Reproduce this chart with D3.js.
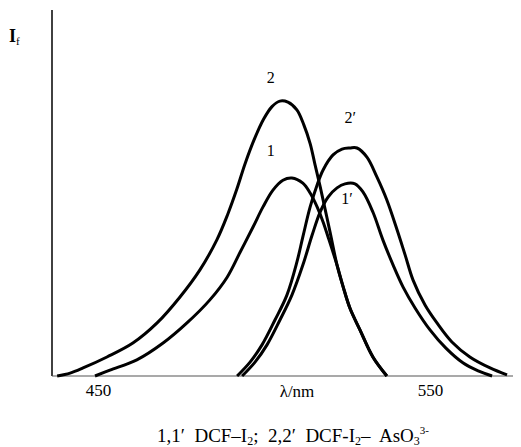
<!DOCTYPE html>
<html><head><meta charset="utf-8">
<script src="https://cdn.jsdelivr.net/npm/d3@7"></script>
<style>body{margin:0;background:#fff}svg{display:block}svg text{font-family:"Liberation Serif","DejaVu Serif",serif !important;fill:#000}</style>
</head><body><div id="chart"></div>
<script>
// wavelength (nm) and relative fluorescence intensity
const curve1 = [[449.1,0],[453.6,1.6],[461.7,4.4],[469.6,9.0],[476.8,14.5],[483.7,20.8],[488.9,27.0],[492.8,33.8],[496.7,40.7],[499.7,46.2],[502.7,50.8],[505.7,53.5],[508.4,54.1],[511.7,52.7],[513.9,50.0],[516.0,46.2],[517.8,42.1],[519.3,38.0],[522.0,30.3],[523.8,24.5],[525.9,18.5],[528.9,12.6],[532.8,5.2],[537.0,0]];
const curve2 = [[437.7,0],[441.6,0.8],[445.5,2.2],[452.7,5.2],[460.5,9.0],[467.8,14.5],[474.7,21.6],[480.7,29.0],[485.8,37.2],[489.0,44.0],[491.8,51.0],[494.3,58.0],[497.0,64.5],[499.9,70.2],[502.4,73.6],[504.8,75.1],[507.2,74.8],[509.9,72.7],[512.0,68.6],[513.9,63.5],[515.4,57.6],[516.9,51.8],[518.4,45.6],[519.9,39.3],[522.0,30.3],[523.8,24.5],[525.9,18.5],[528.9,12.6],[532.8,5.2],[537.0,0]];
const curve1p = [[493.4,0],[497.3,3.8],[500.9,8.5],[504.8,15.3],[508.4,22.1],[511.7,30.3],[514.5,38.5],[516.9,44.8],[519.3,48.9],[522.0,51.4],[524.4,52.5],[527.4,52.5],[529.8,50.3],[532.8,44.8],[535.8,37.2],[538.9,30.3],[541.9,24.3],[545.5,18.6],[550.0,12.6],[554.8,7.6],[559.9,3.6],[564.5,1.4],[568.7,0]];
const curve2p = [[491.9,0],[495.8,3.8],[499.4,8.5],[503.3,15.3],[506.9,22.1],[509.9,31.1],[511.7,38.0],[513.9,46.2],[516.0,52.2],[517.8,56.3],[520.8,60.4],[523.5,62.0],[525.9,62.3],[528.0,62.3],[531.0,59.8],[534.0,54.4],[537.0,48.1],[540.1,39.9],[542.5,33.1],[544.9,26.2],[548.5,19.4],[552.1,14.5],[556.6,9.3],[562.0,5.2],[568.1,2.2],[573.2,0.3]];
const xTicks = [450, 550];
const curveLabels = [["2",502,80],["1",502,60],["2\u2032",526,69],["1\u2032",525,47]];

const W = 521, H = 447;
const svg = d3.select("#chart").append("svg").attr("width", W).attr("height", H)
  .attr("font-family", "Liberation Serif, serif");
const x = d3.scaleLinear().domain([450, 550]).range([98, 430]);
const y = d3.scaleLinear().domain([0, 100]).range([376, 10]);
const x0 = x.invert(52), x1 = x.invert(513);

// axes
svg.append("line").attr("x1", 52).attr("x2", 52).attr("y1", 10).attr("y2", 376)
  .attr("stroke", "#111").attr("stroke-width", 1.6);
svg.append("line").attr("x1", x(x0)).attr("x2", x(x1)).attr("y1", y(0)).attr("y2", y(0))
  .attr("stroke", "#555").attr("stroke-width", 1.2);

const xAxis = d3.axisBottom(x).tickValues(xTicks).tickSize(0).tickPadding(10).tickFormat(d3.format("d"));
const gx = svg.append("g").attr("transform", `translate(0,${y(0)})`).call(xAxis)
  .attr("font-family", "Liberation Serif, serif").attr("font-size", 17);
gx.select(".domain").remove();
gx.selectAll("text").attr("fill", "#000").attr("dy", "0.6em");

svg.append("text").attr("x", 297).attr("y", 397).attr("text-anchor", "middle").attr("font-size", 17).text("\u03BB/nm");

const yl = svg.append("text").attr("x", 9).attr("y", 42).attr("font-size", 18).attr("font-weight", "bold");
yl.append("tspan").text("I");
yl.append("tspan").attr("font-size", 11).attr("dy", 3).attr("font-weight", "normal").text("f");

// curves
const line = d3.line().x(d => x(d[0])).y(d => y(d[1])).curve(d3.curveCatmullRom.alpha(0.5));
[curve1, curve2, curve1p, curve2p].forEach(c => {
  svg.append("path").datum(c).attr("d", line).attr("fill", "none")
    .attr("stroke", "#000").attr("stroke-width", 3).attr("stroke-linejoin", "round");
});

curveLabels.forEach(([t, wx, wy]) => {
  svg.append("text").attr("x", x(wx)).attr("y", y(wy)).attr("text-anchor", "middle")
    .attr("font-size", 16).text(t);
});

// caption
const cap = svg.append("text").attr("x", 293).attr("y", 442).attr("text-anchor", "middle")
  .attr("font-size", 19).attr("xml:space", "preserve").style("white-space", "pre");
cap.append("tspan").text("1,1\u2032  DCF\u2013I");
cap.append("tspan").attr("font-size", 12).attr("dy", 3).text("2");
cap.append("tspan").attr("dy", -3).text(";  2,2\u2032  DCF-I");
cap.append("tspan").attr("font-size", 12).attr("dy", 3).text("2");
cap.append("tspan").attr("dy", -3).text("\u2013  AsO");
cap.append("tspan").attr("font-size", 12).attr("dy", 3).text("3");
cap.append("tspan").attr("font-size", 11).attr("dy", -11).text("3-");
</script></body></html>
